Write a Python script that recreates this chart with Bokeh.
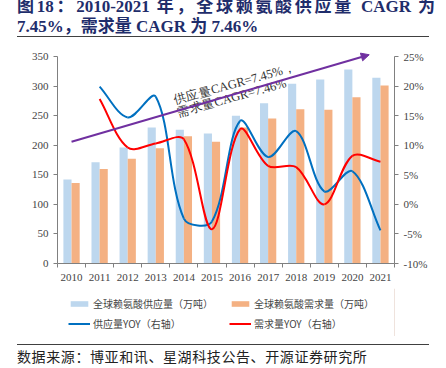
import math
from bokeh.plotting import figure
from bokeh.models import (Range1d, LinearAxis, FixedTicker, PrintfTickFormatter, Arrow,
                          NormalHead, Legend, LegendItem, Div)
from bokeh.layouts import column
from bokeh.core.properties import value
from bokeh.embed import file_html
from bokeh.resources import INLINE

years = ["2010", "2011", "2012", "2013", "2014", "2015", "2016", "2017", "2018", "2019", "2020", "2021"]
supply = [142, 171, 196, 230, 226, 220, 250, 271, 304, 311, 328, 314]
demand = [136, 160, 177, 195, 215, 206, 230, 245, 261, 260, 281, 301]
yoy_years = years[1:]
supply_yoy = [19.9, 14.7, 18.2, -2.4, -2.9, 14.1, 8.0, 12.4, 2.2, 5.6, -4.4]
demand_yoy = [17.8, 9.6, 10.3, 11.0, -4.2, 12.7, 6.5, 6.3, 0.0, 8.2, 7.2]
left_ticks = [0, 50, 100, 150, 200, 250, 300, 350]
right_ticks = [-10, -5, 0, 5, 10, 15, 20, 25]
cagr_labels = ["供应量CAGR=7.45%，", "需求量CAGR=7.46%"]
trend_start = (0, 206)
trend_end = (10.6, 353)

SERIF = "&quot;Liberation Serif&quot;, &quot;Noto Sans CJK SC&quot;"
CJK = "&quot;Noto Sans CJK SC&quot;"

idx = list(range(len(years)))
yidx = [years.index(y) for y in yoy_years]

FRAME_W, FRAME_H = 339, 220
p = figure(width=430, height=246, output_backend="svg", toolbar_location=None,
           x_range=Range1d(-0.5, 11.5), y_range=Range1d(0, 372),
           min_border_left=57, min_border_right=34, min_border_top=1, min_border_bottom=25)
p.extra_y_ranges = {"right": Range1d(-10, 27.2)}
p.outline_line_color = None
p.grid.grid_line_color = None
p.background_fill_color = "white"

bw = 0.29
r_sup = p.vbar(x=[i - bw / 2 for i in idx], top=supply, width=bw, color="#BDD7EE", line_color=None)
r_dem = p.vbar(x=[i + bw / 2 for i in idx], top=demand, width=bw, color="#F4B183", line_color=None)

sx = FRAME_W / 12.0      # px per category
sy = FRAME_H / 37.2      # px per percent


def smooth(xs, ys, color):
    n = len(xs)
    pts = list(zip(xs, ys))

    def dist(a, b):
        return math.hypot((a[0] - b[0]) * sx, (a[1] - b[1]) * sy)

    out_c, in_c = [], []
    for i in range(n):
        pa = pts[max(i - 1, 0)]
        pb = pts[min(i + 1, n - 1)]
        tx, ty = pb[0] - pa[0], pb[1] - pa[1]
        d0 = dist(pa, pts[i]) if i > 0 else 0.0
        d1 = dist(pts[i], pb) if i < n - 1 else 0.0
        tot = (d0 + d1) or 1.0
        out_c.append((pts[i][0] + tx * d1 / tot / 3.0, pts[i][1] + ty * d1 / tot / 3.0))
        in_c.append((pts[i][0] - tx * d0 / tot / 3.0, pts[i][1] - ty * d0 / tot / 3.0))
    p.bezier(x0=[pts[i][0] for i in range(n - 1)], y0=[pts[i][1] for i in range(n - 1)],
             x1=[pts[i + 1][0] for i in range(n - 1)], y1=[pts[i + 1][1] for i in range(n - 1)],
             cx0=[out_c[i][0] for i in range(n - 1)], cy0=[out_c[i][1] for i in range(n - 1)],
             cx1=[in_c[i + 1][0] for i in range(n - 1)], cy1=[in_c[i + 1][1] for i in range(n - 1)],
             line_color=color, line_width=2, y_range_name="right")


smooth(yidx, supply_yoy, "#0070C0")
smooth(yidx, demand_yoy, "#FF0000")

p.add_layout(Arrow(end=NormalHead(size=8, fill_color="#7030A0", line_color="#7030A0"),
                   x_start=trend_start[0], y_start=trend_start[1],
                   x_end=trend_end[0], y_end=trend_end[1],
                   line_color="#7030A0", line_width=2))

p.text(x=[3.7, 3.82], y=[264, 243], text=cagr_labels, angle=0.27,
       text_font=value("Liberation Serif"), text_font_size="12.5px", text_color="#333333",
       text_baseline="bottom", text_align="left")

# axes
p.xaxis.ticker = FixedTicker(ticks=idx, minor_ticks=[i - 0.5 for i in range(13)])
p.xaxis.major_label_overrides = {i: y for i, y in enumerate(years)}
p.xaxis.major_tick_line_color = None
p.xaxis.major_tick_out = 0
p.xaxis.major_tick_in = 0
p.xaxis.minor_tick_in = 0
p.xaxis.minor_tick_out = 4
p.xaxis.minor_tick_line_color = "#808080"
p.xaxis.axis_line_color = "#808080"
p.xaxis.major_label_text_font = "Liberation Serif"
p.xaxis.major_label_text_font_size = "11px"
p.xaxis.major_label_standoff = 6

p.yaxis.ticker = FixedTicker(ticks=left_ticks)
p.yaxis.bounds = (0, 350)
ax_right = LinearAxis(y_range_name="right", ticker=FixedTicker(ticks=right_ticks),
                      formatter=PrintfTickFormatter(format="%d%%"), bounds=(-10, 25))
p.add_layout(ax_right, "right")
for ax in p.yaxis:
    ax.axis_line_color = "#808080"
    ax.major_tick_line_color = "#808080"
    ax.major_tick_in = 0
    ax.major_tick_out = 4
    ax.minor_tick_line_color = None
    ax.major_label_text_font = "Liberation Serif"
    ax.major_label_text_font_size = "11px"
    ax.major_label_standoff = 5

# legend in its own strip (its frame is aligned with the main plot's frame)
lg = figure(width=430, height=48, output_backend="svg", toolbar_location=None,
            x_range=Range1d(0, 1), y_range=Range1d(0, 1), x_axis_type=None, y_axis_type=None,
            min_border_left=57, min_border_right=34, min_border_top=0, min_border_bottom=0)
lg.outline_line_color = None
lg.grid.grid_line_color = None
g1 = lg.vbar(x=[5], top=[1], width=0.1, color="#BDD7EE", line_color=None)
g2 = lg.vbar(x=[5], top=[1], width=0.1, color="#F4B183", line_color=None)
g3 = lg.line(x=[5, 6], y=[5, 6], line_color="#0070C0", line_width=2)
g4 = lg.line(x=[5, 6], y=[5, 6], line_color="#FF0000", line_width=2)
legend = Legend(items=[LegendItem(label="全球赖氨酸供应量（万吨）", renderers=[g1]),
                       LegendItem(label="供应量YOY（右轴）", renderers=[g3]),
                       LegendItem(label="全球赖氨酸需求量（万吨）", renderers=[g2]),
                       LegendItem(label="需求量YOY（右轴）", renderers=[g4])],
                ncols=2, location=(11, 5), border_line_color=None, background_fill_alpha=0,
                label_text_font="Noto Sans CJK SC", label_text_font_size="10px",
                glyph_width=22, glyph_height=7, label_height=12, label_width=131,
                label_standoff=3, spacing=5, padding=0, margin=0)
lg.add_layout(legend)

title_html = (
    "<div style=\"position:relative;margin-left:12px;width:412px;height:32px;"
    "border-bottom:1.5px solid #404040;font-family:" + SERIF + ";"
    "font-weight:bold;color:#1f2d6b;font-size:17px;line-height:18px;\">"
    "<div style=\"position:absolute;top:-7px;left:0;width:418px;text-align:justify;"
    "text-align-last:justify;white-space:nowrap;\">图18：2010-2021 年，全球赖氨酸供应量 CAGR 为</div>"
    "<div style=\"position:absolute;top:13px;left:0;\">7.45%，需求量 CAGR 为 7.46%</div></div>"
)
title = Div(text=title_html, width=430, height=32)

src_html = (
    "<div style=\"margin-left:12px;margin-top:3px;width:412px;border-top:1.5px solid #404040;"
    "padding-top:1px;font-family:" + CJK + ";font-size:14px;line-height:20px;"
    "letter-spacing:0.6px;color:#222;\">数据来源：博亚和讯、星湖科技公告、开源证券研究所</div>"
)
src = Div(text=src_html, width=430, height=30)

layout = column(title, p, lg, src, spacing=0)
open("out.html", "w").write(file_html(layout, INLINE))
